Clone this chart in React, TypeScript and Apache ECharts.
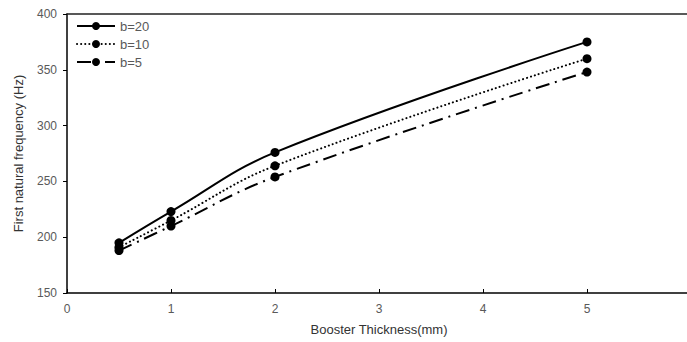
import React, { useEffect, useRef } from "react";
import * as echarts from "echarts";

const thickness = [0.5, 1, 2, 5];
const b20 = [195, 223, 276, 375];
const b10 = [191, 215, 264, 360];
const b5 = [188, 210, 254, 348];
const seriesNames = ["b=20", "b=10", "b=5"];

const FONT = "'Liberation Sans', Arial, sans-serif";
const GRAY = "#595959";

export default function App() {
  const ref = useRef<HTMLDivElement>(null);
  useEffect(() => {
    if (!ref.current) return;
    const chart = echarts.init(ref.current, null, { renderer: "svg" });
    const pairs = (ys: number[]) => thickness.map((x, i) => [x, ys[i]]);
    const mk = (name: string, ys: number[], type: any, cap: any) => ({
      name,
      type: "line",
      data: pairs(ys),
      smooth: 0.4,
      symbol: "circle",
      symbolSize: 9,
      itemStyle: { color: "#000" },
      lineStyle: { color: "#000", width: 2, type, cap },
    });
    chart.setOption({
      animation: false,
      backgroundColor: "#fff",
      textStyle: { fontFamily: FONT },
      grid: {
        left: 67,
        top: 14,
        width: 624,
        height: 279,
        containLabel: false,
        outerBoundsMode: "none",
      },
      legend: {
        orient: "vertical",
        left: 71,
        top: 14,
        itemWidth: 38,
        itemHeight: 10,
        itemGap: 4,
        textStyle: { color: GRAY, fontSize: 13, fontFamily: FONT, lineHeight: 14 },
        data: seriesNames,
      },
      xAxis: [
        {
          type: "value",
          min: 0,
          max: 6,
          interval: 1,
          name: "Booster Thickness(mm)",
          nameLocation: "middle",
          nameGap: 30,
          nameTextStyle: { color: "#333", fontSize: 13, fontFamily: FONT },
          axisLine: { show: true, lineStyle: { color: "#000", width: 1.5 } },
          axisTick: { show: true, inside: true, length: 4, lineStyle: { color: "#000" } },
          axisLabel: {
            color: GRAY,
            fontSize: 12,
            margin: 10,
            formatter: (v: number) => (v === 6 ? "" : String(v)),
          },
          splitLine: { show: false },
        },
        {
          type: "value",
          position: "top",
          min: 0,
          max: 6,
          axisLine: { show: true, onZero: false, lineStyle: { color: "#222", width: 1.5 } },
          axisTick: { show: false },
          axisLabel: { show: false },
          splitLine: { show: false },
        },
      ],
      yAxis: {
        type: "value",
        min: 150,
        max: 400,
        interval: 50,
        name: "First natural frequency (Hz)",
        nameLocation: "middle",
        nameGap: 42,
        nameTextStyle: { color: "#333", fontSize: 13, fontFamily: FONT },
        axisLine: { show: true, lineStyle: { color: "#000", width: 1.5 } },
        axisTick: { show: true, length: 4, lineStyle: { color: "#000" } },
        axisLabel: { color: GRAY, fontSize: 12, margin: 10 },
        splitLine: { show: false },
      },
      series: [
        mk(seriesNames[0], b20, "solid", "butt"),
        mk(seriesNames[1], b10, [0.1, 4], "round"),
        mk(seriesNames[2], b5, [14, 6, 2, 6], "butt"),
      ],
    });
    return () => chart.dispose();
  }, []);
  return (
    <div
      ref={ref}
      style={{ position: "fixed", left: 0, top: 0, width: 687, height: 342, background: "#fff" }}
    />
  );
}
